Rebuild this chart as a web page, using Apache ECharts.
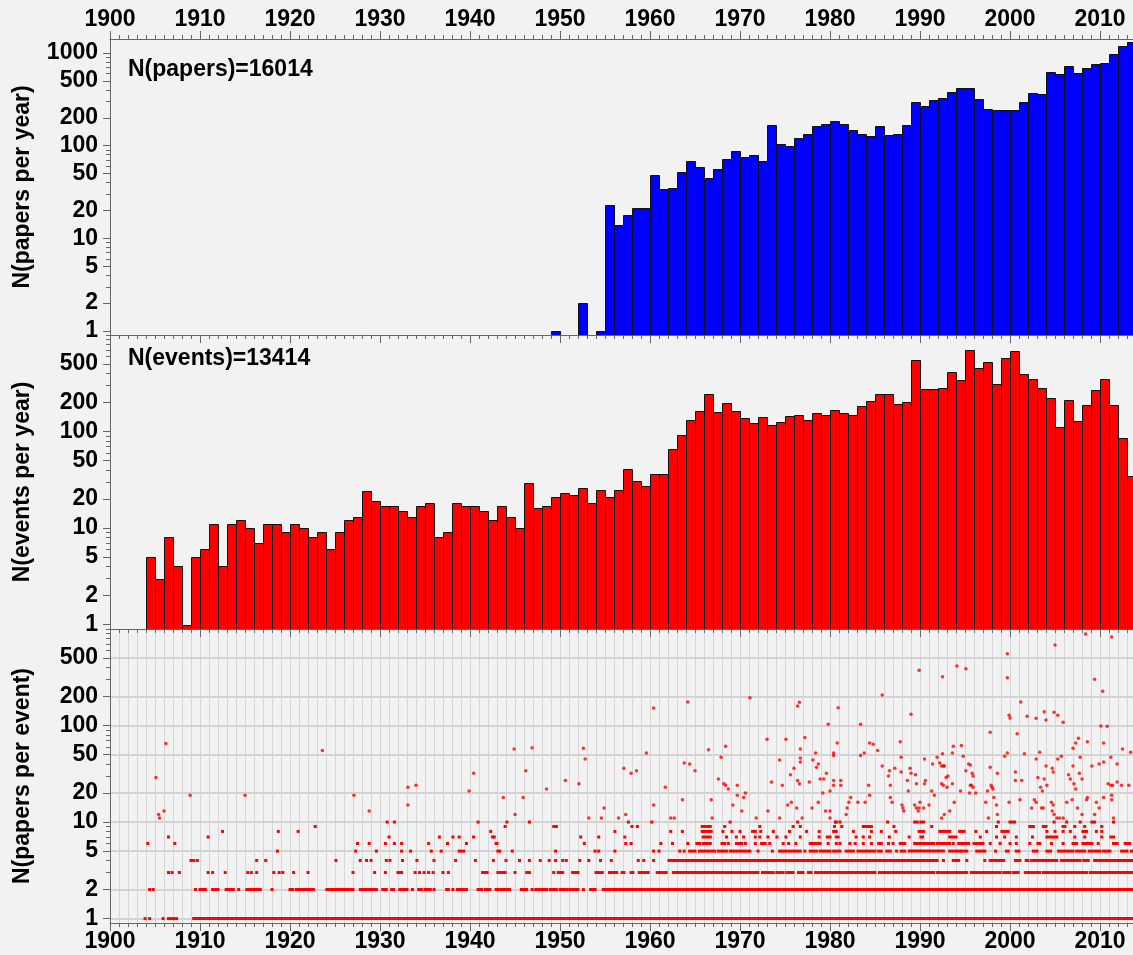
<!DOCTYPE html>
<html>
<head>
<meta charset="utf-8">
<script src="https://cdn.jsdelivr.net/npm/echarts@6.0.0/dist/echarts.min.js"></script>
<style>
  html, body { margin: 0; padding: 0; background: #f2f2f2; }
  #main { width: 1133px; height: 955px; }
</style>
</head>
<body>
<div id="main"></div>
<script>
// papers per year, first bar is 1949
var papersStartYear = 1949;
var papersPerYear = [
  1, 0, 0, 2, 0, 1, 23, 14, 18, 21, 21,
  48, 34, 35, 52, 68, 59, 45, 56, 71, 88,
  76, 80, 69, 168, 103, 100, 120, 134, 163, 171,
  184, 172, 147, 134, 127, 164, 130, 132, 168, 298,
  267, 310, 324, 379, 418, 418, 321, 250, 240, 240,
  244, 293, 372, 357, 622, 587, 716, 611, 688, 754,
  785, 980, 1178, 1312
];

// events per year, first bar is 1904
var eventsStartYear = 1904;
var eventsPerYear = [
  5, 3, 8, 4, 1, 5,
  6, 11, 4, 11, 12, 10, 7, 11, 11, 9,
  11, 10, 8, 9, 6, 9, 12, 13, 24, 19,
  17, 17, 15, 13, 17, 18, 8, 9, 18, 17,
  17, 15, 12, 17, 13, 10, 29, 16, 17, 21,
  23, 22, 26, 18, 25, 21, 25, 41, 31, 27,
  36, 36, 66, 93, 132, 164, 242, 160, 196, 163,
  139, 124, 141, 118, 126, 144, 147, 133, 154, 148,
  169, 154, 147, 182, 206, 242, 242, 195, 203, 557,
  277, 277, 284, 412, 340, 703, 453, 523, 314, 580,
  679, 393, 346, 284, 220, 111, 211, 130, 187, 268,
  348, 190, 85, 35
];

var papersLabel = 'N(papers)=16014';
var eventsLabel = 'N(events)=13414';

var logLabelValues = [1, 2, 5, 10, 20, 50, 100, 200, 500, 1000];
var logMinorValues = [1, 2, 3, 4, 5, 6, 7, 8, 9, 10, 20, 30, 40, 50, 60, 70, 80, 90,
  100, 200, 300, 400, 500, 600, 700, 800, 900, 1000];

// papers per event: runs of events with the same count (year ranges), single number = one event
var rowsAt1 = [1903.9, 1904.4, 1905.9, [1906.5, 1907.4], [1909.3, 2013.9]];
var rowsAt2 = [1904.4, 1904.8, 1909.5, [1910.0, 1910.6], [1911.4, 1912.0], [1912.9, 1913.7], 1914.3,
  [1915.2, 1916.7], 1918.0, [1920.0, 1920.3], [1920.7, 1921.1], [1921.3, 1922.6], [1924.1, 1924.8],
  [1925.0, 1927.0], [1927.8, 1929.6], [1930.3, 1930.7], [1931.3, 1931.5], [1932.2, 1933.0], 1933.6,
  [1934.3, 1934.6], [1935.0, 1935.6], 1936.0, [1937.4, 1937.6], 1938.1, [1938.6, 1939.3], 1939.6,
  [1940.9, 1941.3], [1941.7, 1942.2], [1942.9, 1944.4], [1945.7, 1946.3], 1946.9, [1947.3, 1948.5],
  [1948.9, 1949.6], [1950.0, 1950.8], [1951.1, 1952.0], 1952.6, [1953.4, 1953.9], [1954.8, 1955.6],
  [1955.9, 1973.0], [1973.2, 1973.9], [1974.1, 1977.6], [1977.8, 1978.6], [1978.9, 1998.9], [1999.1, 2013.9]];
var rowsAt3 = [1906.5, 1906.9, 1907.7, 1910.9, 1911.4, 1912.8, 1915.3, 1915.7, 1916.3, 1918.2, 1918.8,
  1919.2, 1920.4, 1922.0, 1927.0, 1929.4, 1930.6, [1932.0, 1932.4], 1933.9, 1934.4, 1934.9, 1935.4,
  1935.9, 1937.0, 1937.6, [1941.4, 1941.9], [1943.1, 1943.9], 1945.0, [1946.3, 1946.6], 1949.3,
  [1949.8, 1950.3], [1951.4, 1952.0], [1954.0, 1954.7], [1955.5, 1956.3], [1956.9, 1957.1],
  [1957.9, 1958.1], [1958.8, 1959.8], [1960.8, 1961.8], [1962.6, 1967.4], [1967.6, 1969.1],
  [1969.3, 1970.2], [1970.4, 1972.0], [1972.5, 1973.7], [1974.1, 1974.8], [1975.2, 1975.9],
  [1976.5, 1977.0], [1977.6, 1977.9], [1978.4, 1979.1], [1979.3, 1985.0], [1985.5, 1986.7],
  [1987.0, 1991.5], [1991.9, 1993.7], [1993.9, 1995.2], [1995.7, 1997.4], [1997.6, 1998.9],
  [1999.3, 2000.0], [2000.4, 2000.9], [2001.7, 2003.3], [2003.7, 2005.6], [2005.9, 2008.5],
  [2008.9, 2010.4], [2010.7, 2013.9]];
var rowsAt4 = [1909.0, 1909.3, 1909.7, 1916.3, 1917.3, 1925.1, 1927.8, 1928.5, 1929.0, 1930.7, 1931.1,
  1932.5, 1934.1, 1936.0, 1938.4, 1940.6, 1942.6, 1944.0, 1945.5, 1946.6, 1947.8, 1948.8, 1949.5,
  1950.3, 1950.7, 1952.2, 1953.2, 1954.5, 1955.7, 1958.7, 1959.3, 1960.4, [1962.1, 1962.8],
  [1963.0, 1991.9], 1992.6, [1993.7, 1994.3], 1995.2, 1997.2, [1997.8, 1999.3], [2000.6, 2001.1],
  [2001.8, 2002.0], [2002.4, 2005.2], [2005.7, 2007.8], [2008.2, 2008.7], [2009.4, 2010.4],
  [2010.7, 2013.9]];
var rowsAt5 = [1918.6, 1927.3, 1929.6, 1932.4, 1933.4, 1935.7, 1936.8, [1938.8, 1939.3], 1943.1, 1943.3,
  1944.7, 1949.5, 1953.9, 1954.3, 1956.1, 1960.4, 1961.0, 1963.3, 1963.8, [1964.4, 1965.0],
  [1965.5, 1967.2], [1967.6, 1968.5], [1968.9, 1969.6], [1969.9, 1970.4], [1970.7, 1971.1], 1972.0,
  1973.6, [1974.4, 1976.7], 1977.2, [1977.8, 1978.5], [1978.9, 1980.0], [1980.4, 1981.1],
  [1981.8, 1982.6], [1983.1, 1985.0], [1985.4, 1985.7], [1986.3, 1986.7], 1987.4, [1987.9, 1988.3],
  [1988.8, 1992.6], [1993.3, 1994.4], [1994.6, 1995.2], [1996.3, 1997.2], 1998.4, [1999.6, 1999.8],
  [2000.7, 2001.0], [2002.6, 2003.0], [2004.1, 2004.5], [2005.4, 2007.0], [2007.4, 2008.3],
  [2008.8, 2010.0], [2010.4, 2011.1], [2012.4, 2013.0], 2013.5];
var rowsAt6 = [1904.2, 1907.2, 1927.5, 1928.8, 1930.6, 1931.6, 1932.4, 1935.4, 1937.5, 1939.6, 1942.9,
  1943.0, 1952.7, 1957.3, 1957.9, 1961.2, 1962.5, 1964.2, [1965.2, 1965.5], [1965.9, 1966.7],
  [1968.0, 1968.3], 1968.7, [1969.6, 1970.2], 1970.6, 1971.7, [1972.4, 1972.8], 1973.3, 1974.8,
  1975.4, 1976.2, [1977.8, 1978.9], 1979.8, 1980.7, 1981.1, 1982.2, 1982.8, 1983.7, 1984.6,
  [1985.4, 1985.7], 1986.5, 1987.0, [1987.8, 1988.3], [1989.4, 1990.4], [1990.7, 1991.5], 1991.9,
  [1992.2, 1993.3], 1993.7, [1994.3, 1995.4], [1996.0, 1997.0], 1997.8, 1998.9, 2000.0, 2000.7,
  2002.2, 2003.1, 2003.3, 2004.6, 2005.9, [2007.0, 2007.4], [2008.1, 2008.5], [2008.8, 2009.1],
  2009.8, [2011.5, 2011.9], [2012.8, 2013.3]];
var rowsAt7 = [1906.5, 1910.9, 1931.0, 1936.6, 1938.1, 1938.8, 1940.4, 1942.5, 1942.7, 1952.3, 1954.3,
  1957.2, [1965.9, 1966.7], 1968.5, 1969.6, 1970.4, 1971.7, 1972.2, 1973.1, 1974.1, 1975.1, 1976.7,
  1978.8, [1979.7, 1980.0], [1980.7, 1980.9], 1982.9, 1983.7, 1984.4, 1986.6, 1988.8,
  [1990.1, 1990.3], [1993.3, 1994.0], 1996.7, 1998.5, 1999.4, 2000.7, 2002.5, [2004.1, 2005.2],
  2007.2, 2008.3, 2010.2, [2011.2, 2011.5]];
var rowsAt8 = [1912.5, 1918.7, 1920.9, 1942.3, 1956.1, 1962.3, 1963.6, [1965.8, 1966.8], 1968.1,
  1969.1, 1970.0, [1971.4, 1971.7], 1972.3, 1973.7, 1975.5, 1977.4, 1978.8, [1980.4, 1980.7],
  1982.6, 1984.6, 1985.7, 1987.3, [1989.9, 1990.4], [1992.2, 1993.3], [1994.4, 1994.9], 1996.2,
  1997.4, [1999.1, 1999.8], 2004.1, 2005.0, 2005.9, 2006.7, [2008.1, 2008.5], 2009.6, 2010.2];
var rowsAt9 = [1922.8, 1943.9, 1949.3, 1949.6, 1958.0, 1958.6, [1965.8, 1966.7], 1968.3, 1972.2,
  1975.9, 1976.7, 1980.5, 1981.3, [1983.7, 1984.6], 1987.1, 1991.3, 1998.5, [2002.2, 2002.6],
  [2003.7, 2004.0], [2005.9, 2006.1], 2007.2, 2008.3, 2010.2];
var rowsAt10 = [1930.8, 1931.6, 1940.9, 1944.1, 1946.6, 1957.6, 1960.2, 1968.9, 1976.4, 1980.6,
  1980.7, 1981.1, 1986.4, [1989.4, 1989.7], [1990.1, 1990.4], 1998.7, [2000.0, 2000.5], 2004.9,
  2006.3, 2007.8, [2009.1, 2009.4], 2011.5];

// single events with more than 10 papers: [year, papers]
var papersPerEventHigh = [
  [1905.1, 29], [1905.4, 12], [1905.5, 11], [1906.0, 13], [1906.2, 65], [1908.9, 19], [1915.0, 19],
  [1923.6, 55], [1927.1, 19], [1928.8, 13], [1933.1, 23], [1933.1, 15], [1934.0, 24], [1939.9, 21],
  [1940.4, 32], [1943.7, 18], [1944.9, 57], [1945.0, 12], [1945.9, 18], [1946.2, 34], [1946.9, 59],
  [1948.5, 22], [1950.6, 27], [1952.1, 25], [1952.6, 58], [1952.8, 45], [1953.2, 11], [1954.6, 11],
  [1954.9, 14], [1956.5, 11], [1957.1, 36], [1957.3, 12], [1957.9, 32], [1958.5, 34], [1959.6, 52],
  [1960.4, 15], [1960.4, 152], [1961.7, 23], [1962.3, 11], [1962.7, 11], [1963.6, 17], [1963.8, 41],
  [1964.2, 175], [1964.4, 40], [1965.0, 34], [1966.5, 56], [1966.8, 17], [1966.9, 11], [1967.6, 28],
  [1967.9, 47], [1968.2, 25], [1968.4, 61], [1968.4, 24], [1968.7, 22], [1969.2, 15], [1969.7, 24],
  [1969.7, 19], [1970.2, 13], [1970.4, 18], [1970.6, 20], [1971.1, 194], [1971.8, 11], [1973.0, 72],
  [1973.1, 13], [1973.5, 26], [1974.4, 11], [1974.4, 44], [1974.7, 24], [1975.1, 72], [1975.3, 15],
  [1975.6, 31], [1975.7, 16], [1976.0, 36], [1976.3, 14], [1976.4, 159], [1976.6, 174], [1976.7, 57],
  [1976.7, 46], [1976.7, 42], [1976.4, 27], [1976.6, 25], [1976.9, 11], [1977.2, 75], [1977.7, 26],
  [1978.0, 14], [1978.1, 44], [1978.4, 52], [1978.5, 37], [1978.7, 40], [1978.7, 16], [1978.9, 28],
  [1979.3, 28], [1979.2, 20], [1979.6, 32], [1979.8, 103], [1979.5, 13], [1980.0, 11], [1980.0, 13],
  [1980.4, 52], [1980.4, 49], [1980.4, 27], [1980.4, 24], [1980.0, 21], [1980.8, 66], [1980.9, 153],
  [1981.2, 27], [1981.2, 24], [1981.8, 12], [1981.9, 14], [1982.1, 16], [1982.3, 18], [1983.1, 16],
  [1983.4, 103], [1983.4, 49], [1983.8, 52], [1983.9, 16], [1984.3, 24], [1984.4, 66], [1984.4, 19],
  [1984.8, 64], [1985.3, 55], [1985.8, 207], [1985.8, 38], [1986.5, 30], [1986.6, 34], [1986.7, 24],
  [1986.7, 18], [1986.9, 16], [1987.2, 36], [1987.8, 68], [1987.9, 47], [1987.9, 33], [1988.0, 15],
  [1988.1, 14], [1988.2, 13], [1988.6, 27], [1988.7, 21], [1988.9, 36], [1989.0, 131], [1989.0, 32],
  [1989.4, 15], [1989.5, 31], [1989.6, 25], [1989.6, 14], [1989.8, 13], [1989.9, 373], [1989.9, 14],
  [1990.0, 16], [1990.4, 14], [1990.5, 25], [1990.6, 27], [1990.5, 45], [1991.0, 15], [1991.4, 40],
  [1991.3, 21], [1991.6, 19], [1991.9, 47], [1992.2, 41], [1992.4, 38], [1992.6, 38], [1992.7, 38],
  [1992.5, 51], [1992.5, 320], [1992.4, 25], [1992.6, 24], [1993.0, 23], [1992.9, 29], [1993.1, 30],
  [1993.3, 13], [1992.4, 11], [1992.7, 12], [1993.6, 52], [1993.7, 61], [1993.6, 25], [1993.8, 16],
  [1994.1, 414], [1994.5, 21], [1994.6, 62], [1994.8, 48], [1995.1, 34], [1995.1, 388], [1995.4, 40],
  [1995.6, 39], [1995.8, 32], [1995.9, 30], [1995.6, 24], [1995.7, 24], [1995.9, 23], [1995.5, 20],
  [1996.2, 20], [1997.3, 16], [1997.6, 11], [1997.5, 21], [1997.8, 85], [1997.8, 37], [1997.9, 24],
  [1998.0, 23], [1998.1, 22], [1998.2, 18], [1998.5, 15], [1998.6, 32], [1998.6, 12], [1999.4, 48],
  [1999.7, 52], [1999.7, 555], [1999.7, 313], [1999.9, 128], [2000.0, 120], [1999.9, 16],
  [2000.6, 33], [2000.6, 27], [2000.8, 82], [2001.2, 175], [2001.3, 27], [2001.1, 17], [2001.6, 51],
  [2001.9, 125], [2002.4, 14], [2002.7, 17], [2002.9, 16], [2002.9, 119], [2002.9, 45], [2003.1, 29],
  [2003.3, 53], [2003.4, 23], [2003.6, 21], [2003.5, 14], [2003.7, 14], [2003.8, 139], [2003.8, 28],
  [2004.0, 114], [2004.0, 38], [2004.1, 24], [2004.6, 16], [2004.8, 15], [2004.9, 12], [2004.7, 13],
  [2004.7, 36], [2004.8, 33], [2004.9, 137], [2005.0, 684], [2005.3, 128], [2005.3, 45], [2005.7, 48],
  [2005.9, 108], [2005.2, 11], [2005.5, 11], [2005.9, 11], [2006.3, 16], [2006.5, 31], [2006.7, 28],
  [2006.9, 17], [2007.0, 58], [2007.0, 38], [2007.1, 25], [2007.3, 22], [2007.3, 66], [2007.5, 14],
  [2007.6, 74], [2007.8, 47], [2007.7, 32], [2008.0, 28], [2008.0, 12], [2008.4, 889], [2008.5, 17],
  [2008.6, 18], [2008.6, 68], [2009.1, 38], [2009.4, 301], [2009.4, 12], [2009.6, 16], [2009.9, 40],
  [2009.9, 14], [2010.1, 99], [2010.3, 226], [2010.4, 66], [2010.4, 42], [2010.4, 18], [2010.8, 98],
  [2010.9, 25], [2011.2, 24], [2011.4, 24], [2011.2, 47], [2011.3, 828], [2011.3, 19], [2011.3, 17],
  [2011.5, 11], [2011.9, 40], [2011.9, 26], [2012.4, 24], [2012.5, 57], [2013.2, 24], [2013.4, 53]
];

var FONT = 'Liberation Sans, Arial, Helvetica, sans-serif';
var AXIS_GRAY = '#666';

function yearBars(start, counts) {
  var out = [];
  counts.forEach(function (c, i) {
    if (c > 0) out.push([start + i, c]);
  });
  return out;
}

function expandRows(list, level) {
  return list.map(function (s) {
    return Array.isArray(s) ? [s[0], s[1], level] : [s, s, level];
  });
}

var rowData = [].concat(
  expandRows(rowsAt1, 1), expandRows(rowsAt2, 2), expandRows(rowsAt3, 3),
  expandRows(rowsAt4, 4), expandRows(rowsAt5, 5), expandRows(rowsAt6, 6),
  expandRows(rowsAt7, 7), expandRows(rowsAt8, 8), expandRows(rowsAt9, 9),
  expandRows(rowsAt10, 10)
);

function barRenderer(color) {
  return function (params, api) {
    var top = api.coord([api.value(0), api.value(1)]);
    var right = api.coord([api.value(0) + 1, api.value(1)]);
    var cs = params.coordSys;
    var x0 = Math.round(top[0]) + 0.5;
    var x1 = Math.round(right[0]) + 0.5;
    var y0 = Math.round(top[1]) + 0.5;
    return {
      type: 'rect',
      shape: { x: x0, y: y0, width: x1 - x0, height: cs.y + cs.height - y0 + 2 },
      style: { fill: color, stroke: '#111', lineWidth: 1 }
    };
  };
}

function renderRow(params, api) {
  var a = api.coord([api.value(0), api.value(2)]);
  var b = api.coord([api.value(1), api.value(2)]);
  return {
    type: 'rect',
    shape: { x: a[0] - 1.5, y: a[1] - 1.5, width: b[0] - a[0] + 3, height: 3 },
    style: { fill: '#ff0000' }
  };
}

var labelStyle = { color: '#000', fontFamily: FONT, fontWeight: 'bold', fontSize: 23 };

function xAxisFor(gridIndex, position, showLabels, showGrid) {
  return {
    type: 'value', gridIndex: gridIndex, position: position,
    min: 1900, max: 2020, interval: 10,
    axisLine: { show: true, onZero: false, lineStyle: { color: AXIS_GRAY, width: 1 } },
    axisTick: { show: true, inside: false, length: 8, lineStyle: { color: AXIS_GRAY } },
    minorTick: { show: true, splitNumber: 10, length: 4, lineStyle: { color: AXIS_GRAY } },
    axisLabel: Object.assign({
      show: showLabels, margin: position === 'top' ? 8 : 7,
      formatter: function (v) { return String(v); }
    }, labelStyle),
    splitLine: { show: showGrid, lineStyle: { color: '#d6d6d6', width: 1 } },
    minorSplitLine: { show: showGrid, lineStyle: { color: '#d6d6d6', width: 1 } }
  };
}

function yAxisMajor(gridIndex, min, max, name, labels, showGrid) {
  return {
    type: 'log', logBase: 10, gridIndex: gridIndex, position: 'left', min: min, max: max,
    name: name, nameLocation: 'middle', nameGap: 76, nameRotate: 90,
    nameTextStyle: { color: '#000', fontFamily: FONT, fontWeight: 'bold', fontSize: 23 },
    axisLine: { show: true, onZero: false, lineStyle: { color: AXIS_GRAY, width: 1 } },
    axisTick: { show: true, length: 7, customValues: labels, lineStyle: { color: AXIS_GRAY } },
    axisLabel: Object.assign({
      show: true, margin: 12, customValues: labels,
      formatter: function (v) { return String(Math.round(v)); }
    }, labelStyle),
    minorTick: { show: false },
    splitLine: { show: showGrid, lineStyle: { color: '#d3d3d3', width: 2 } }
  };
}

function yAxisMinor(gridIndex, min, max) {
  return {
    type: 'log', logBase: 10, gridIndex: gridIndex, position: 'left', min: min, max: max,
    axisLine: { show: false },
    axisTick: { show: true, length: 4, customValues: logMinorValues, lineStyle: { color: AXIS_GRAY } },
    axisLabel: { show: false },
    minorTick: { show: false },
    splitLine: { show: false }
  };
}

var chart = echarts.init(document.getElementById('main'));

var option = {
  animation: false,
  backgroundColor: '#f2f2f2',
  grid: [
    { left: 110, top: 39, width: 1080, height: 296, outerBoundsMode: 'none', containLabel: false },
    { left: 110, top: 335, width: 1080, height: 294, outerBoundsMode: 'none', containLabel: false },
    { left: 110, top: 629, width: 1080, height: 294, outerBoundsMode: 'none', containLabel: false }
  ],
  xAxis: [
    xAxisFor(0, 'top', true, false),
    xAxisFor(0, 'bottom', false, false),
    xAxisFor(1, 'bottom', false, false),
    xAxisFor(2, 'bottom', true, true)
  ],
  yAxis: [
    yAxisMajor(0, 0.905, 1416, 'N(papers per year)', logLabelValues, false),
    yAxisMinor(0, 0.905, 1416),
    yAxisMajor(1, 0.9, 1000, 'N(events per year)', logLabelValues.slice(0, 9), false),
    yAxisMinor(1, 0.9, 1000),
    yAxisMajor(2, 0.9, 1000, 'N(papers per event)', logLabelValues.slice(0, 9), true),
    yAxisMinor(2, 0.9, 1000)
  ],
  graphic: [
    { type: 'text', left: 128, top: 58, style: { text: papersLabel, fill: '#000', font: 'bold 23px ' + FONT } },
    { type: 'text', left: 128, top: 347, style: { text: eventsLabel, fill: '#000', font: 'bold 23px ' + FONT } }
  ],
  series: [
    {
      type: 'custom', name: 'papers', xAxisIndex: 0, yAxisIndex: 0,
      renderItem: barRenderer('#0000ff'), clip: true,
      encode: { x: 0, y: 1 },
      data: yearBars(papersStartYear, papersPerYear)
    },
    {
      type: 'custom', name: 'events', xAxisIndex: 2, yAxisIndex: 2,
      renderItem: barRenderer('#ff0000'), clip: true,
      encode: { x: 0, y: 1 },
      data: yearBars(eventsStartYear, eventsPerYear)
    },
    {
      type: 'custom', name: 'rows', xAxisIndex: 3, yAxisIndex: 4,
      renderItem: renderRow, clip: true,
      encode: { x: [0, 1], y: 2 },
      data: rowData
    },
    {
      type: 'scatter', name: 'high', xAxisIndex: 3, yAxisIndex: 4,
      symbol: 'circle', symbolSize: 3.5,
      itemStyle: { color: '#ff0000' },
      data: papersPerEventHigh
    }
  ]
};

chart.setOption(option);
</script>
</body>
</html>
